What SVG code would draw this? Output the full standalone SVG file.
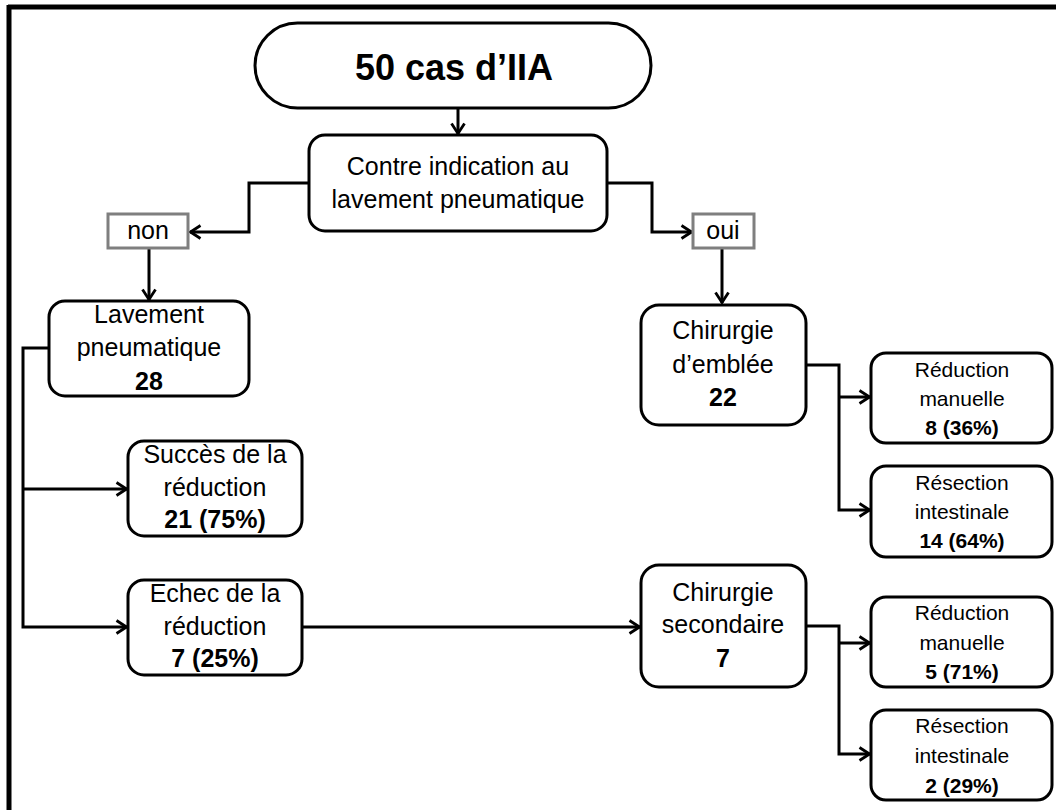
<svg xmlns="http://www.w3.org/2000/svg" width="1056" height="810" viewBox="0 0 1056 810">
<defs>
<marker id="arr" viewBox="0 0 13 16" refX="12" refY="8" markerWidth="13" markerHeight="16" orient="auto" markerUnits="userSpaceOnUse">
<path d="M1.5,1.5 L11.5,8 L1.5,14.5" fill="none" stroke="#000" stroke-width="2.8" stroke-linejoin="miter"/>
</marker>
</defs>
<style>
.box{fill:#fff;stroke:#000;stroke-width:3}
.lbl{fill:#fff;stroke:#7f7f7f;stroke-width:3}
.t{font-family:"Liberation Sans",Arial,sans-serif;fill:#000;text-anchor:middle}
.big{font-size:25px}
.sm{font-size:21px}
.b{font-weight:bold}
.con{fill:none;stroke:#000;stroke-width:3}
</style>
<rect width="1056" height="810" fill="#fff"/>
<g id="frame">
<line x1="8" y1="7" x2="1056" y2="7" stroke="#000" stroke-width="5"/>
<line x1="9" y1="5" x2="9" y2="810" stroke="#000" stroke-width="5"/>
</g>
<g id="connectors">
<path class="con" d="M458,108 V134" marker-end="url(#arr)"/>
<path class="con" d="M309,183 H249 V232 H190" marker-end="url(#arr)"/>
<path class="con" d="M607,183 H652 V232 H692" marker-end="url(#arr)"/>
<path class="con" d="M149,249 V300" marker-end="url(#arr)"/>
<path class="con" d="M722,249 V303" marker-end="url(#arr)"/>
<path class="con" d="M49,348 H23 V627 H127" marker-end="url(#arr)"/>
<path class="con" d="M23,489 H127" marker-end="url(#arr)"/>
<path class="con" d="M302,627 H640" marker-end="url(#arr)"/>
<path class="con" d="M806,365 H839 V510 H870" marker-end="url(#arr)"/>
<path class="con" d="M839,397 H870" marker-end="url(#arr)"/>
<path class="con" d="M806,626 H839 V754 H870" marker-end="url(#arr)"/>
<path class="con" d="M839,643 H870" marker-end="url(#arr)"/>
</g>
<g id="n-title">
<rect class="box" x="255" y="23" width="396" height="85" rx="42.5"/>
<text class="t b" x="454" y="80" font-size="36">50 cas d’IIA</text>
</g>
<g id="n-decision">
<rect class="box" x="309" y="135" width="298" height="96" rx="16"/>
<text class="t big" x="458" y="175">Contre indication au</text>
<text class="t big" x="458" y="208">lavement pneumatique</text>
</g>
<g id="n-non">
<rect class="lbl" x="108" y="214" width="80" height="34"/>
<text class="t big" x="148" y="239">non</text>
</g>
<g id="n-oui">
<rect class="lbl" x="693" y="214" width="61" height="34"/>
<text class="t big" x="723" y="239">oui</text>
</g>
<g id="n-lavement">
<rect class="box" x="49" y="301" width="200" height="95" rx="16"/>
<text class="t big" x="149" y="323">Lavement</text>
<text class="t big" x="149" y="356">pneumatique</text>
<text class="t big b" x="149" y="390">28</text>
</g>
<g id="n-succes">
<rect class="box" x="128" y="441" width="174" height="95" rx="16"/>
<text class="t big" x="215" y="463">Succès de la</text>
<text class="t big" x="215" y="496">réduction</text>
<text class="t big b" x="215" y="528">21 (75%)</text>
</g>
<g id="n-echec">
<rect class="box" x="128" y="580" width="174" height="95" rx="16"/>
<text class="t big" x="215" y="602">Echec de la</text>
<text class="t big" x="215" y="635">réduction</text>
<text class="t big b" x="215" y="667">7 (25%)</text>
</g>
<g id="n-chir-emblee">
<rect class="box" x="641" y="305" width="165" height="120" rx="18"/>
<text class="t big" x="723" y="339">Chirurgie</text>
<text class="t big" x="723" y="373">d’emblée</text>
<text class="t big b" x="723" y="406">22</text>
</g>
<g id="n-red1">
<rect class="box" x="871" y="353" width="181" height="90" rx="15"/>
<text class="t sm" x="962" y="377">Réduction</text>
<text class="t sm" x="962" y="406">manuelle</text>
<text class="t sm b" x="962" y="435">8 (36%)</text>
</g>
<g id="n-res1">
<rect class="box" x="871" y="466" width="181" height="91" rx="15"/>
<text class="t sm" x="962" y="490">Résection</text>
<text class="t sm" x="962" y="519">intestinale</text>
<text class="t sm b" x="962" y="548">14 (64%)</text>
</g>
<g id="n-chir-sec">
<rect class="box" x="641" y="565" width="165" height="122" rx="18"/>
<text class="t big" x="723" y="601">Chirurgie</text>
<text class="t big" x="723" y="633">secondaire</text>
<text class="t big b" x="723" y="667">7</text>
</g>
<g id="n-red2">
<rect class="box" x="871" y="597" width="181" height="90" rx="15"/>
<text class="t sm" x="962" y="620">Réduction</text>
<text class="t sm" x="962" y="650">manuelle</text>
<text class="t sm b" x="962" y="679">5 (71%)</text>
</g>
<g id="n-res2">
<rect class="box" x="871" y="710" width="181" height="90" rx="15"/>
<text class="t sm" x="962" y="733">Résection</text>
<text class="t sm" x="962" y="763">intestinale</text>
<text class="t sm b" x="962" y="793">2 (29%)</text>
</g>
</svg>
